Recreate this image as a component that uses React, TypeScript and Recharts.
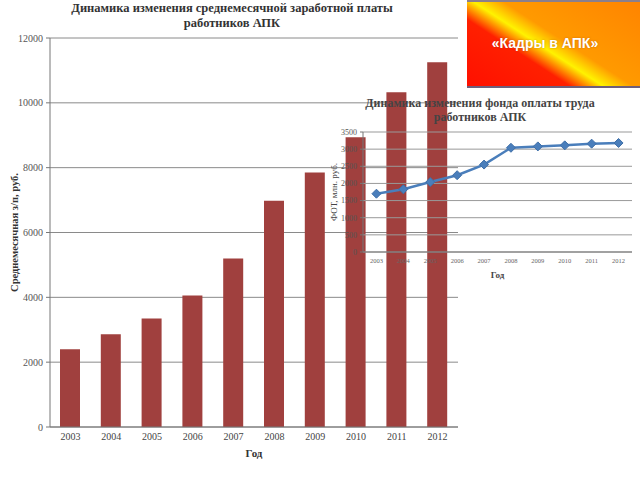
import React from "react";
import { BarChart, Bar, LineChart, Line, XAxis, YAxis, CartesianGrid, Label } from "recharts";

const years = ["2003", "2004", "2005", "2006", "2007", "2008", "2009", "2010", "2011", "2012"];
const avgSalary = [2400, 2860, 3350, 4060, 5200, 6980, 7850, 8940, 10330, 11250];
const payrollFund = [1700, 1830, 2040, 2240, 2550, 3040, 3080, 3110, 3160, 3180];
const salaryTicks = [0, 2000, 4000, 6000, 8000, 10000, 12000];
const fundTicks = [0, 500, 1000, 1500, 2000, 2500, 3000, 3500];

const serif = "'Liberation Serif', 'DejaVu Serif', serif";

const salaryData = years.map((year, i) => ({ year, value: avgSalary[i] }));
const fundData = years.map((year, i) => ({ year, value: payrollFund[i] }));

const Diamond = (props: any) => {
  const { cx, cy, index } = props;
  const r = 4.5;
  return (
    <path
      key={`d-${index}`}
      d={`M${cx},${cy - r} L${cx + r},${cy} L${cx},${cy + r} L${cx - r},${cy} Z`}
      fill="#4A7EBB"
      stroke="#3f6fa8"
      strokeWidth={1}
    />
  );
};

export default function App() {
  return (
    <div
      style={{
        position: "absolute",
        left: 0,
        top: 0,
        width: 640,
        height: 480,
        background: "#fff",
        overflow: "hidden",
        fontFamily: serif,
      }}
    >
      {/* main chart title */}
      <div
        style={{
          position: "absolute",
          left: 0,
          top: 1,
          width: 464,
          textAlign: "center",
          fontWeight: "bold",
          fontSize: 12.5,
          lineHeight: "15px",
          color: "#333",
        }}
      >
        Динамика изменения среднемесячной заработной платы
        <br />
        работников АПК
      </div>

      <div style={{ position: "absolute", left: 0, top: 0 }}>
        <BarChart
          width={460}
          height={480}
          data={salaryData}
          margin={{ top: 38, right: 2, bottom: 23, left: 0 }}
          barSize={20}
        >
          <CartesianGrid vertical={false} stroke="#8a8a8a" />
          <XAxis
            dataKey="year"
            height={30}
            tickLine={false}
            tickSize={4}
            tickMargin={2}
            stroke="#777"
            tick={{ fill: "#444", fontSize: 10, fontFamily: serif }}
          >
            <Label
              value="Год"
              position="insideBottom"
              offset={0}
              style={{ fontWeight: "bold", fontSize: 11, fill: "#333", fontFamily: serif }}
            />
          </XAxis>
          <YAxis
            width={50}
            domain={[0, 12000]}
            ticks={salaryTicks}
            interval={0}
            tickSize={4}
            tickMargin={3}
            stroke="#777"
            tick={{ fill: "#555", fontSize: 10, fontFamily: serif }}
          >
            <Label
              value="Среднемесячная з/п, руб."
              angle={-90}
              position="center"
              dx={-11}
              style={{ fontWeight: "bold", fontSize: 10.5, fill: "#333", fontFamily: serif }}
            />
          </YAxis>
          <Bar dataKey="value" fill="#A0403E" isAnimationActive={false} />
        </BarChart>
      </div>

      {/* inset chart title */}
      <div
        style={{
          position: "absolute",
          left: 340,
          top: 96,
          width: 280,
          textAlign: "center",
          fontWeight: "bold",
          fontSize: 12,
          lineHeight: "14px",
          color: "#444",
        }}
      >
        Динамика изменения фонда оплаты труда
        <br />
        работников АПК
      </div>

      <div style={{ position: "absolute", left: 320, top: 90 }}>
        <LineChart
          width={320}
          height={200}
          data={fundData}
          margin={{ top: 42, right: 8, bottom: 18, left: 0 }}
          style={{ background: "transparent" }}
        >
          <CartesianGrid vertical={false} stroke="#999" />
          <XAxis
            dataKey="year"
            scale="band"
            height={20}
            tickLine={false}
            tickSize={4}
            tickMargin={2}
            stroke="#777"
            tick={{ fill: "#666", fontSize: 6.5, fontFamily: serif }}
          >
            <Label
              value="Год"
              position="insideBottom"
              offset={-6}
              style={{ fontWeight: "bold", fontSize: 9, fill: "#444", fontFamily: serif }}
            />
          </XAxis>
          <YAxis
            width={43}
            domain={[0, 3500]}
            ticks={fundTicks}
            interval={0}
            tickSize={3}
            tickMargin={3}
            stroke="#777"
            tick={{ fill: "#555", fontSize: 8, fontFamily: serif }}
          >
            <Label
              value="ФОТ, млн. руб."
              angle={-90}
              position="center"
              dx={-8}
              style={{ fontSize: 9, fill: "#444", fontFamily: serif }}
            />
          </YAxis>
          <Line
            type="linear"
            dataKey="value"
            stroke="#4A7EBB"
            strokeWidth={2.5}
            dot={Diamond}
            activeDot={false}
            isAnimationActive={false}
          />
        </LineChart>
      </div>

      {/* title banner */}
      <div
        style={{
          position: "absolute",
          left: 467,
          top: 0,
          width: 173,
          height: 88,
          borderTop: "2px solid #8a7f8c",
          borderBottom: "2px solid #6e5f7c",
          background:
            "linear-gradient(33deg, #ff1000 0%, #ff2000 34%, #fff200 45%, #ff9a00 55%, #ff8400 100%)",
          display: "flex",
          alignItems: "center",
          justifyContent: "center",
          color: "#fff",
          fontFamily: "'Liberation Sans', Arial, sans-serif",
          fontWeight: "bold",
          fontSize: 14,
          paddingRight: 17,
          paddingBottom: 2,
          boxSizing: "border-box",
          textShadow: "0 0 2px rgba(150,60,0,0.5)",
        }}
      >
        «Кадры в АПК»
      </div>
    </div>
  );
}
